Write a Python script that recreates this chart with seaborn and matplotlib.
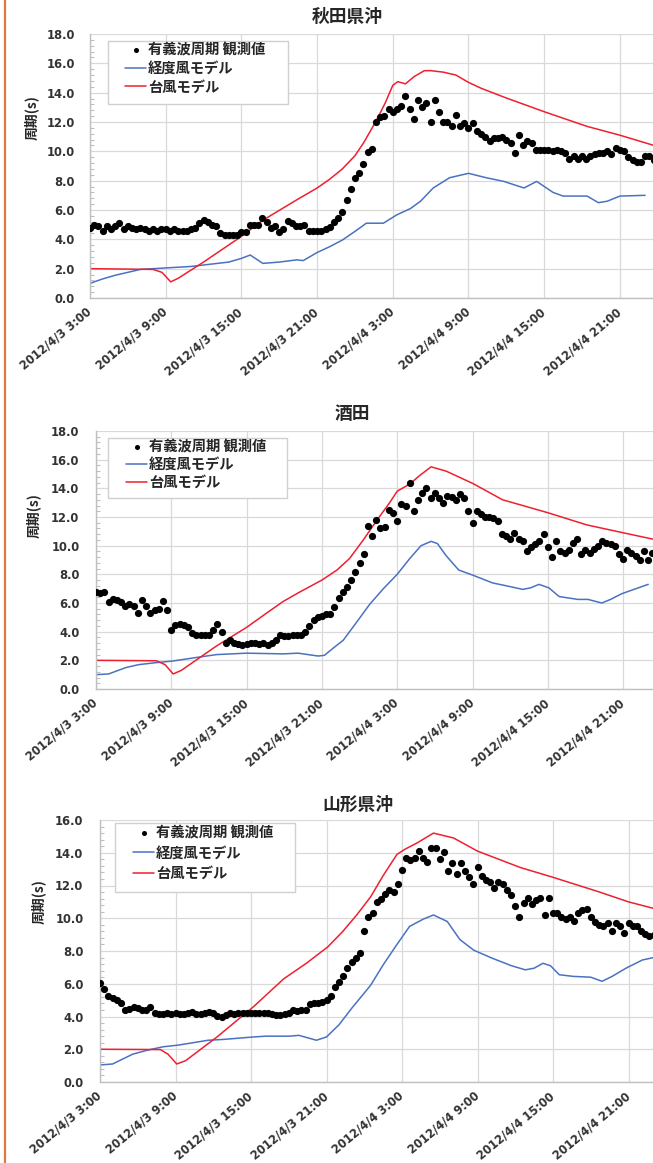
import numpy as np
import pandas as pd
import matplotlib
matplotlib.use("Agg")
import matplotlib.pyplot as plt
from matplotlib.ticker import MultipleLocator
from matplotlib.patches import Rectangle
from matplotlib.lines import Line2D
from matplotlib.font_manager import FontProperties
import seaborn as sns

# ---------------- data ----------------
START = pd.Timestamp("2012-04-03 03:00")
OBS_STEP_MIN = 20  # observed wave period sampled every 20 minutes

titles = ["秋田県沖", "酒田", "山形県沖"]
legend_labels = ["有義波周期 観測値", "経度風モデル", "台風モデル"]
y_label = "周期(s)"

# Observed significant wave period (s), every 20 min from 2012/4/3 3:00
akita_obs = [4.8, 5.0, 4.9, 4.6, 4.9, 4.7, 4.9, 5.1, 4.7, 4.9, 4.8, 4.7, 4.8, 4.7, 4.6, 4.7, 4.6, 4.7,
             4.7, 4.6, 4.7, 4.6, 4.6, 4.6, 4.7, 4.8, 5.1, 5.3, 5.2, 5.0, 4.9, 4.45, 4.3, 4.3, 4.3, 4.3,
             4.5, 4.5, 5.0, 5.0, 5.0, 5.45,
             5.2, 4.8, 4.9, 4.5, 4.7, 5.25, 5.1, 4.9, 4.9, 5.0, 4.55, 4.55, 4.55, 4.55, 4.7, 4.85,
             5.2, 5.45, 5.85, 6.65, 7.45, 8.15, 8.5, 9.15, 9.95, 10.15, 12.0, 12.35, 12.4, 12.9,
             12.7, 12.9, 13.1, 13.75, 12.9, 12.2, 13.5, 13.05, 13.3, 12.0, 13.5, 12.7, 12.0, 12.0,
             11.7, 12.5, 11.7, 11.9, 11.6, 11.9, 11.4, 11.2, 11.0, 10.7, 10.9, 10.9, 11.0, 10.8,
             10.6, 9.9, 11.1, 10.4, 10.7, 10.6, 10.1, 10.1, 10.1, 10.1, 10.0, 10.1, 10.0, 9.9,
             9.45, 9.7, 9.45, 9.7, 9.45, 9.7, 9.8, 9.9, 9.9, 10.0, 9.8, 10.2, 10.1, 10.0, 9.6,
             9.4, 9.3, 9.3, 9.7, 9.7, 9.4]
akita_kdf_h = [0, 1, 2, 3, 4, 5, 6, 7, 8, 9, 10, 11, 12, 12.7, 13.7, 15, 16.4, 16.9, 18, 19,
               20, 21.1, 21.9, 23.25, 24.3, 25.4, 26.2, 27.2, 28.5, 30, 31.4, 32.8, 34.4, 35.4,
               36.7, 37.5, 39.4, 40.3, 41, 42, 44]
akita_kdf = [1.0, 1.3, 1.55, 1.75, 1.95, 2.0, 2.05, 2.1, 2.15, 2.25, 2.35, 2.45, 2.7, 2.93, 2.36,
             2.45, 2.6, 2.55, 3.1, 3.5, 3.95, 4.6, 5.1, 5.1, 5.66, 6.1, 6.6, 7.5, 8.2, 8.5, 8.2,
             7.95, 7.5, 7.95, 7.2, 6.95, 6.95, 6.5, 6.6, 6.95, 7.0]
akita_typ_h = [0, 5, 5.7, 6.4, 7, 9, 12, 13.7, 16.4, 18, 19, 20, 21, 21.7, 22.7, 23.4, 24, 24.4,
               25, 25.7, 26.5, 27, 28, 29, 30, 31, 32.8, 36, 39.4, 42, 44.7]
akita_typ = [2.0, 1.95, 1.75, 1.1, 1.35, 2.45, 4.2, 5.3, 6.7, 7.5, 8.1, 8.8, 9.7, 10.6, 12.1, 13.3,
             14.5, 14.75, 14.6, 15.1, 15.5, 15.5, 15.4, 15.2, 14.7, 14.3, 13.7, 12.7, 11.7, 11.1,
             10.4]

sakata_obs = [6.75, 6.7, 6.75, 6.1, 6.3, 6.2, 6.1, 5.8, 5.9, 5.8, 5.3, 6.2, 5.8, 5.3, 5.5, 5.6,
              6.15, 5.5,
              4.15, 4.45, 4.55, 4.5, 4.35, 3.9, 3.75, 3.75, 3.8, 3.75, 4.1, 4.55, 4.0,
              3.2, 3.45, 3.2, 3.15, 3.1, 3.15, 3.2, 3.2, 3.15, 3.2, 3.1, 3.2,
              3.45, 3.8, 3.7, 3.7, 3.8, 3.8, 3.8, 3.95, 4.4, 4.8, 5.05, 5.1, 5.2,
              5.25, 5.7, 6.35, 6.8, 7.15, 7.6, 8.15, 8.8, 9.45, 11.4, 10.7, 11.8, 11.2, 11.3,
              12.5, 12.3, 11.7, 12.9, 12.8, 14.4, 12.4, 13.2, 13.7, 14.0,
              13.3, 13.7, 13.3, 13.0, 13.5, 13.4, 13.2, 13.6, 13.3, 12.4,
              11.6, 12.4, 12.2, 12.0, 12.0, 11.9, 11.7, 10.8, 10.7, 10.5,
              10.9, 10.5, 10.3, 9.6, 9.9, 10.1, 10.3, 10.8, 9.9, 9.2,
              10.3, 9.6, 9.5, 9.7, 10.2, 10.5, 9.4, 9.7, 9.5, 9.75,
              10.0, 10.3, 10.2, 10.1, 10.0, 9.4, 9.1, 9.7, 9.5, 9.3,
              9.0, 9.6, 9.0, 9.5]
sakata_kdf_h = [0, 1, 2.4, 3.4, 4.9, 6.1, 8, 9.6, 12, 14.9, 16.1, 17.7, 18.2, 18.9, 19.7, 20.8,
                21.8, 22.9, 24, 25, 25.9, 26.7, 27.2, 27.9, 28.9, 30, 31.6, 32.7, 34, 34.6, 35.3,
                36.1, 36.9, 38.4, 39.2, 40.3, 41, 41.9, 44]
sakata_kdf = [1.0, 1.05, 1.5, 1.7, 1.85, 1.95, 2.2, 2.4, 2.5, 2.45, 2.5, 2.3, 2.35, 2.85, 3.4, 4.7,
              5.9, 7.0, 8.0, 9.1, 10.0, 10.3, 10.15, 9.3, 8.3, 7.95, 7.4, 7.2, 6.95, 7.05, 7.3,
              7.05, 6.45, 6.25, 6.25, 6.0, 6.25, 6.65, 7.3]
sakata_typ_h = [0, 4.8, 5.5, 6.15, 6.8, 9.6, 12, 13.6, 14.9, 16.1, 18, 19.2, 20.2, 21.3, 22.4,
                23.4, 24, 25, 25.8, 26.7, 27.9, 30, 32.4, 36, 39.1, 42, 44.4]
sakata_typ = [2.0, 1.97, 1.7, 1.05, 1.3, 3.0, 4.3, 5.3, 6.1, 6.7, 7.6, 8.3, 9.1, 10.4, 11.8, 13.0,
              13.8, 14.3, 14.9, 15.5, 15.2, 14.35, 13.2, 12.3, 11.45, 10.9, 10.45]

yamagata_obs = [6.05, 5.7, 5.25, 5.1, 5.0, 4.85, 4.4, 4.45, 4.6, 4.5, 4.4, 4.4, 4.55, 4.2,
                4.15, 4.15, 4.2, 4.15, 4.2, 4.15, 4.15, 4.2, 4.25, 4.15, 4.15, 4.2, 4.25, 4.2,
                4.05, 4.0, 4.1, 4.2, 4.15, 4.2, 4.2, 4.2, 4.2, 4.2, 4.2, 4.2, 4.2, 4.15, 4.1,
                4.1, 4.15, 4.2,
                4.4, 4.35, 4.4, 4.4, 4.75, 4.85, 4.85,
                4.9, 5.0, 5.25, 5.8, 6.1, 6.5, 6.95, 7.35, 7.55, 7.9,
                9.2, 10.1, 10.35, 11.0, 11.15, 11.5, 11.75, 11.6, 12.1, 12.95,
                13.7, 13.55, 13.65, 14.1, 13.7, 13.45, 14.3, 14.3, 13.6, 14.05,
                12.9, 13.4, 12.7, 13.4, 12.9, 12.5, 12.1, 13.1, 12.55, 12.35,
                12.2, 11.85, 12.2, 12.1, 11.7, 11.45, 10.75, 10.1, 10.95, 11.25,
                10.9, 11.1, 11.25, 10.2, 11.25, 10.35, 10.35, 10.05, 9.95, 10.1,
                9.85, 10.35, 10.5, 10.55, 10.1, 9.75, 9.6, 9.55, 9.7, 9.25,
                9.7, 9.5, 9.1, 9.7, 9.55, 9.5, 9.2, 9.05, 8.9, 9.0]
yamagata_kdf_h = [0, 1, 2.6, 3.8, 5, 6.2, 7.4, 8.6, 9.8, 12.2, 13.2, 15.1, 15.8, 17.2, 18, 19,
                  20, 21.5, 22.5, 23.6, 24.6, 25.7, 26.5, 27.6, 28.6, 29.7, 31.2, 32.7, 33.8,
                  34.5, 35.2, 35.8, 36.5, 37.6, 39, 39.9, 40.7, 41.8, 43.1, 44]
yamagata_kdf = [1.04, 1.1, 1.7, 1.95, 2.15, 2.25, 2.4, 2.55, 2.6, 2.75, 2.8, 2.8, 2.85, 2.55,
                2.75, 3.5, 4.5, 5.9, 7.15, 8.4, 9.5, 9.95, 10.2, 9.8, 8.7, 8.05, 7.55, 7.1, 6.85,
                6.95, 7.25, 7.1, 6.55, 6.45, 6.4, 6.15, 6.45, 6.95, 7.45, 7.6]
yamagata_typ_h = [0, 4.8, 5.4, 6.1, 6.8, 9.3, 12.2, 14.6, 16.4, 18.1, 19.3, 20.4, 21.5, 22.5,
                  23.6, 24.2, 25.2, 26.5, 28.1, 30, 33.4, 36, 39.7, 42, 44]
yamagata_typ = [2.0, 1.98, 1.7, 1.1, 1.3, 2.75, 4.6, 6.3, 7.25, 8.25, 9.2, 10.2, 11.3, 12.6,
                13.9, 14.2, 14.6, 15.2, 14.9, 14.1, 13.1, 12.5, 11.6, 11.0, 10.6]

y_max = [18, 18, 16]

# ---------------- style ----------------
W, H = 653, 1163
sns.set_theme(style="white")
plt.rcParams["font.family"] = ["DejaVu Sans", "Noto Sans CJK JP"]
plt.rcParams["font.weight"] = "bold"

C_OBS = "black"
C_KDF = "#4A72C0"
C_TYP = "#EE2030"
C_GRID = "#D9D9D9"
C_AXIS = "#BFBFBF"
C_TEXT = "#333333"


def fx(px):
    return px / W


def fy(py):
    return 1 - py / H


# layout (pixels) for each panel
layout = [
    dict(box=(90, 34, 653, 298), px6h=75.7, title_xy=(347, 17), ylab_xy=(31, 118),
         leg_box=(108, 41, 288, 104), leg_anchor=(125, 43), leg_space=0.33, ypad=11),
    dict(box=(96, 431, 653, 689), px6h=75.3, title_xy=(352, 414), ylab_xy=(33, 516),
         leg_box=(108, 438, 287, 498), leg_anchor=(126, 440), leg_space=0.28, ypad=12),
    dict(box=(100, 820, 653, 1082), px6h=75.5, title_xy=(358, 805), ylab_xy=(38, 902),
         leg_box=(115, 823, 295, 892), leg_anchor=(133, 826), leg_space=0.45, ypad=12),
]

series = [
    (akita_obs, akita_kdf_h, akita_kdf, akita_typ_h, akita_typ),
    (sakata_obs, sakata_kdf_h, sakata_kdf, sakata_typ_h, sakata_typ),
    (yamagata_obs, yamagata_kdf_h, yamagata_kdf, yamagata_typ_h, yamagata_typ),
]

fig = plt.figure(figsize=(W / 100, H / 100), dpi=100)

leg_font = FontProperties(family=["Noto Sans CJK JP"], weight="bold", size=10.3)

for k, (lay, (obs, kh, kv, th, tv)) in enumerate(zip(layout, series)):
    l, t, r, b = lay["box"]
    ax = fig.add_axes([fx(l), fy(b), (r - l) / W, (b - t) / H])

    df_obs = pd.DataFrame({
        "time": START + pd.to_timedelta(np.arange(len(obs)) * OBS_STEP_MIN, unit="min"),
        "value": obs,
    })
    df_kdf = pd.DataFrame({"time": START + pd.to_timedelta(kh, unit="h"), "value": kv})
    df_typ = pd.DataFrame({"time": START + pd.to_timedelta(th, unit="h"), "value": tv})

    sns.lineplot(data=df_kdf, x="time", y="value", color=C_KDF, lw=1.1, ax=ax,
                 label=legend_labels[1], zorder=2)
    sns.lineplot(data=df_typ, x="time", y="value", color=C_TYP, lw=1.1, ax=ax,
                 label=legend_labels[2], zorder=2)
    sns.scatterplot(data=df_obs, x="time", y="value", color=C_OBS, s=27, linewidth=0,
                    ax=ax, label=legend_labels[0], zorder=3)

    span_h = (r - l) / lay["px6h"] * 6
    ax.set_xlim(START, START + pd.Timedelta(hours=span_h))
    ax.set_ylim(0, y_max[k])

    # x ticks every 6 hours
    ticks = pd.date_range(START, START + pd.Timedelta(hours=span_h), freq="6h")
    ax.set_xticks(ticks)
    ax.set_xticklabels([f"{d.year}/{d.month}/{d.day} {d.hour}:{d.minute:02d}" for d in ticks],
                       rotation=40, ha="right", va="center", rotation_mode="anchor",
                       fontsize=8.3, color=C_TEXT)
    yt = np.arange(0, y_max[k] + 0.01, 2)
    ax.set_yticks(yt)
    ax.set_yticklabels([f"{v:.1f}" for v in yt], fontsize=8.3, color=C_TEXT)
    ax.yaxis.set_minor_locator(MultipleLocator(0.4))
    ax.tick_params(axis="x", which="major", length=0, pad=9)
    ax.tick_params(axis="y", which="major", length=0, pad=lay["ypad"])
    ax.tick_params(axis="y", which="minor", direction="in", length=3, width=0.8,
                   color=C_AXIS, left=True)
    ax.grid(True, which="major", color=C_GRID, lw=0.9)
    ax.set_axisbelow(True)
    for s in ["top", "right"]:
        ax.spines[s].set_visible(False)
    for s in ["left", "bottom"]:
        ax.spines[s].set_color(C_AXIS)
        ax.spines[s].set_linewidth(1.0)
    ax.set_xlabel("")
    ax.set_ylabel("")

    # legend box + legend
    lb = lay["leg_box"]
    ax.add_artist(Rectangle((fx(lb[0]), fy(lb[3])), (lb[2] - lb[0]) / W, (lb[3] - lb[1]) / H,
                            transform=fig.transFigure, facecolor="white", edgecolor="#D0D0D0",
                            lw=1.0, zorder=4, clip_on=False))
    handles, labels = ax.get_legend_handles_labels()
    order = [labels.index(lbl) for lbl in legend_labels]
    leg = ax.legend([handles[i] for i in order], [labels[i] for i in order],
                    loc="upper left", bbox_to_anchor=(fx(lay["leg_anchor"][0]), fy(lay["leg_anchor"][1])),
                    bbox_transform=fig.transFigure, frameon=False, borderpad=0, borderaxespad=0,
                    handlelength=1.5, handletextpad=0.1, labelspacing=lay["leg_space"],
                    prop=leg_font, markerscale=0.7)
    leg.set_zorder(5)
    for txt in leg.get_texts():
        txt.set_color("#262626")

    fig.text(fx(lay["title_xy"][0]), fy(lay["title_xy"][1]), titles[k], ha="center", va="center",
             fontsize=12.8, fontweight="bold", color="#262626", family=["Noto Sans CJK JP"])
    fig.text(fx(lay["ylab_xy"][0]), fy(lay["ylab_xy"][1]), y_label, rotation=90, ha="center",
             va="center", fontsize=10, fontweight="bold", color="#262626",
             family=["Noto Sans CJK JP", "DejaVu Sans"])

# orange frame line at the left edge
fig.add_artist(Line2D([fx(5), fx(5)], [0, 1], transform=fig.transFigure, color="#E07A3C", lw=1.6))

fig.savefig("out.png", dpi=100)
